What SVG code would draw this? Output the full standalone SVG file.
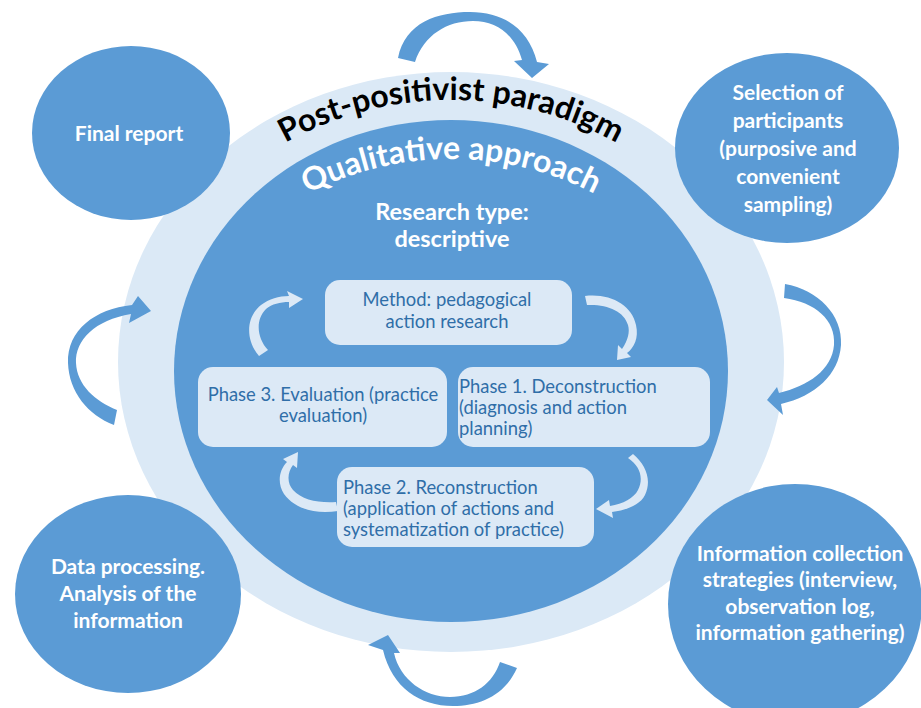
<svg xmlns="http://www.w3.org/2000/svg" width="921" height="708" viewBox="0 0 921 708">
<defs>
<style>
.ring{fill:#dbe9f6}
.core{fill:#5b9bd5}
.node{fill:#5b9bd5}
.box{fill:#dce9f6}
.arr{fill:#5b9bd5}
.sarr{fill:#dce9f6}
.nt{font-family:Lato,"Open Sans","Liberation Sans",sans-serif;font-weight:bold;font-size:21px;fill:#ffffff;text-anchor:middle}
.rt{font-family:Lato,"Open Sans","Liberation Sans",sans-serif;font-weight:bold;font-size:23.5px;fill:#ffffff;text-anchor:middle}
.bt{font-family:Lato,"Open Sans","Liberation Sans",sans-serif;font-size:18.4px;fill:#2f6ea8}
.arc1{font-family:Lato,"Open Sans","Liberation Sans",sans-serif;font-weight:bold;font-size:32px;fill:#000000}
.arc2{font-family:Lato,"Open Sans","Liberation Sans",sans-serif;font-weight:bold;font-size:32px;fill:#ffffff}
</style>
<path id="arcPost" d="M 110 441 A 341 341 0 0 1 792 441"/>
<path id="arcQual" d="M 138 472 A 313 313 0 0 1 764 472"/>
</defs>
<rect width="921" height="708" fill="#ffffff"/>

<g id="paradigm">
<ellipse class="ring" cx="451" cy="362" rx="333" ry="290"/>
<text class="arc1"><textPath href="#arcPost" startOffset="50%" text-anchor="middle">Post-positivist paradigm</textPath></text>
</g>
<g id="approach">
<ellipse class="core" cx="451" cy="371" rx="277" ry="251"/>
<text class="arc2"><textPath href="#arcQual" startOffset="50%" text-anchor="middle">Qualitative approach</textPath></text>
<text class="rt" x="452" y="220">Research type:</text>
<text class="rt" x="452" y="247">descriptive</text>
</g>

<g id="final-report">
<ellipse class="node" cx="131" cy="133" rx="99" ry="87"/>
<text class="nt" x="129" y="141">Final report</text>
</g>
<g id="selection">
<ellipse class="node" cx="787" cy="148" rx="112" ry="95"/>
<text class="nt" x="788" y="100">Selection of</text>
<text class="nt" x="788" y="128">participants</text>
<text class="nt" x="788" y="156">(purposive and</text>
<text class="nt" x="788" y="184">convenient</text>
<text class="nt" x="788" y="212">sampling)</text>
</g>
<g id="data-processing">
<ellipse class="node" cx="128" cy="594" rx="113" ry="99"/>
<text class="nt" x="128" y="574">Data processing.</text>
<text class="nt" x="128" y="601">Analysis of the</text>
<text class="nt" x="128" y="628">information</text>
</g>
<g id="collection">
<ellipse class="node" cx="795" cy="604" rx="127" ry="120"/>
<text class="nt" x="800" y="561">Information collection</text>
<text class="nt" x="800" y="587">strategies (interview,</text>
<text class="nt" x="800" y="614">observation log,</text>
<text class="nt" x="800" y="640">information gathering)</text>
</g>

<g id="method">
<rect class="box" x="325" y="280" width="247" height="65" rx="15"/>
<text class="bt" x="447" y="306" text-anchor="middle">Method: pedagogical</text>
<text class="bt" x="447" y="328" text-anchor="middle">action research</text>
</g>
<g id="phase3">
<rect class="box" x="198" y="367" width="249" height="80" rx="15"/>
<text class="bt" x="323" y="401" text-anchor="middle">Phase 3. Evaluation (practice</text>
<text class="bt" x="323" y="422" text-anchor="middle">evaluation)</text>
</g>
<g id="phase1">
<rect class="box" x="458" y="367" width="252" height="80" rx="15"/>
<text class="bt" x="459" y="393">Phase 1. Deconstruction</text>
<text class="bt" x="459" y="414">(diagnosis and action</text>
<text class="bt" x="459" y="435">planning)</text>
</g>
<g id="phase2">
<rect class="box" x="337" y="467" width="257" height="80" rx="15"/>
<text class="bt" x="343" y="494">Phase 2. Reconstruction</text>
<text class="bt" x="343" y="515">(application of actions and</text>
<text class="bt" x="343" y="536">systematization of practice)</text>
</g>

<g id="connectors">
<path class="arr" d="M 398 58 C 405 22 438 12 470 12 C 505 12 529 30 537 62 L 549 64 L 532 78 L 514 61 L 522 60 C 515 35 497 21 473 21 C 447 21 424 35 415 62 Z"/>
<path class="arr" d="M 785 284 C 818 290 843 315 841 345 C 839 375 815 396 781 404 L 783 415 L 767 400 L 777 387 L 779 393 C 808 386 832 370 834 345 C 836 320 815 302 784 298 Z"/>
<path class="arr" d="M 117 410 C 95 401 77 385 76 363 C 75 340 95 320 131 314 L 129 323 L 151 311 L 138 296 L 132 305 C 95 309 67 330 68 363 C 69 392 88 415 114 425 Z"/>
<path class="arr" d="M 517 668 C 505 695 480 706 453 706 C 420 706 392 688 383 650 L 368 645 L 388 635 L 400 653 L 394 653 C 400 680 425 697 450 697 C 475 697 493 683 500 662 Z"/>
<path class="sarr" d="M 259 356 C 246 341 245 318 261 305 C 269 299 279 296 289 296 L 287 291 L 303 299 L 289 308 L 289 302 C 280 302 272 304 266 309 C 255 320 257 338 268 350 Z"/>
<path class="sarr" d="M 585 296 C 610 293 632 305 636 325 C 639 338 634 348 627 353 L 631 357 L 617 360 L 618 345 L 622 349 C 628 340 630 332 628 325 C 624 311 607 304 587 305 Z"/>
<path class="sarr" d="M 633 454 C 646 465 652 480 645 495 C 640 505 627 510 612 512 L 613 518 L 596 509 L 609 500 L 610 506 C 623 504 634 498 638 490 C 644 478 640 466 628 458 Z"/>
<path class="sarr" d="M 338 511 C 315 515 294 508 284 494 C 277 483 279 470 287 462 L 283 459 L 298 452 L 297 468 L 293 465 C 287 473 287 483 293 490 C 302 500 318 503 336 502 Z"/>
</g>
</svg>
